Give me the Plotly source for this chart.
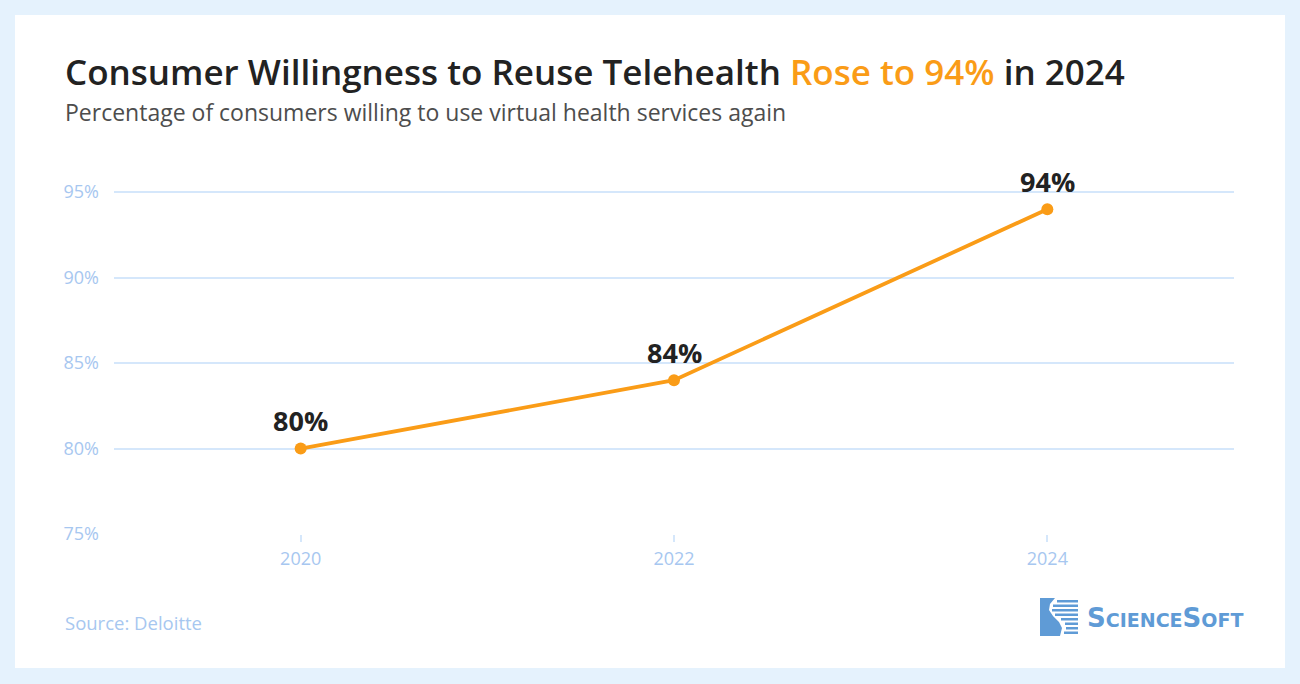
import plotly.graph_objects as go

years = [2020, 2022, 2024]
willing_pct = [80, 84, 94]
label_texts = ["80%", "84%", "94%"]
y_ticks = [75, 80, 85, 90, 95]
y_tick_labels = ["75%", "80%", "85%", "90%", "95%"]
x_ticks = [2020, 2022, 2024]
x_tick_labels = ["2020", "2022", "2024"]

ORANGE = "#fa9c17"
DARK = "#222222"
LIGHTBLUE = "#a7c7f0"
GRID = "#d5e7fb"
LOGO = "#5f9bd6"

W, H = 1300, 684
L, R, T, B = 114, 1234, 158, 534


def px(x):
    return (x - L) / (R - L)


def py(y):
    return (B - y) / (B - T)


fig = go.Figure()
fig.add_trace(go.Scatter(
    x=years, y=willing_pct, mode="lines+markers",
    line=dict(color=ORANGE, width=3.8),
    marker=dict(color=ORANGE, size=12),
    hoverinfo="skip", showlegend=False,
))

annotations = []
for xv, yv, t in zip(years, willing_pct, label_texts):
    annotations.append(dict(
        x=xv, y=yv, xref="x", yref="y", text=f"<b>{t}</b>", showarrow=False,
        yshift=28, font=dict(family="Open Sans", size=27, color=DARK),
        xanchor="center", yanchor="middle",
    ))

annotations.append(dict(
    x=px(63), y=py(72), xref="paper", yref="paper", xanchor="left", yanchor="middle",
    showarrow=False,
    text=("Consumer Willingness to Reuse Telehealth "
          f"<span style='color:{ORANGE}'>Rose to 94%</span> in 2024"),
    font=dict(family="Open Sans", size=35, color=DARK, weight=600),
))
annotations.append(dict(
    x=px(63), y=py(112), xref="paper", yref="paper", xanchor="left", yanchor="middle",
    showarrow=False,
    text="Percentage of consumers willing to use virtual health services again",
    font=dict(family="Open Sans", size=23, color="#4d4d4d"),
))
annotations.append(dict(
    x=px(63), y=py(622), xref="paper", yref="paper", xanchor="left", yanchor="middle",
    showarrow=False, text="Source: Deloitte",
    font=dict(family="Open Sans", size=18.5, color=LIGHTBLUE),
))
annotations.append(dict(
    x=px(1085), y=py(618), xref="paper", yref="paper", xanchor="left", yanchor="middle",
    showarrow=False,
    text=("<b>S<span style='font-size:19px'>CIENCE</span>S<span style='font-size:19px'>OFT</span></b>"),
    font=dict(family="DejaVu Sans", size=26, color=LOGO),
))

shapes = [
    dict(type="rect", xref="paper", yref="paper", layer="below",
         x0=px(15), x1=px(1285), y0=py(668), y1=py(15),
         fillcolor="white", line=dict(width=0)),
]

# logo icon: solid S-curve block + stripes
path_pts = [(1040, 598), (1055, 598), (1050, 604), (1049, 610), (1053, 616),
            (1059, 622), (1062, 628), (1060, 636), (1040, 636)]
path = "M " + " L ".join(f"{px(x):.5f},{py(y):.5f}" for x, y in path_pts) + " Z"
shapes.append(dict(type="path", xref="paper", yref="paper", path=path,
                   fillcolor=LOGO, line=dict(width=0)))
stripe_rows = [600, 604.5, 609, 613.5, 618, 622.5, 627, 631.5]
stripe_starts = [1057, 1053, 1052, 1055, 1061, 1065, 1066, 1064]
for yy, xs in zip(stripe_rows, stripe_starts):
    shapes.append(dict(type="rect", xref="paper", yref="paper",
                       x0=px(xs), x1=px(1078), y0=py(yy + 2.5), y1=py(yy),
                       fillcolor=LOGO, line=dict(width=0)))

fig.update_layout(
    width=W, height=H,
    margin=dict(l=L, r=W - R, t=T, b=H - B, pad=0),
    paper_bgcolor="#e5f2fd",
    plot_bgcolor="rgba(0,0,0,0)",
    font=dict(family="Open Sans"),
    annotations=annotations,
    shapes=shapes,
    xaxis=dict(
        range=[2019, 2025], tickmode="array", tickvals=x_ticks, ticktext=x_tick_labels,
        showgrid=False, zeroline=False,
        ticks="outside", ticklen=7, tickwidth=1.5, tickcolor=GRID,
        showline=False, ticklabelstandoff=1,
        tickfont=dict(family="Open Sans", size=18, color=LIGHTBLUE),
        fixedrange=True,
    ),
    yaxis=dict(
        range=[75, 97], tickmode="array", tickvals=y_ticks, ticktext=y_tick_labels,
        showgrid=True, gridcolor=GRID, gridwidth=2, zeroline=False, showline=False,
        ticklabelstandoff=14,
        tickfont=dict(family="Open Sans", size=18, color=LIGHTBLUE),
        fixedrange=True,
    ),
)

fig.write_html("out.html", config={"displayModeBar": False})
